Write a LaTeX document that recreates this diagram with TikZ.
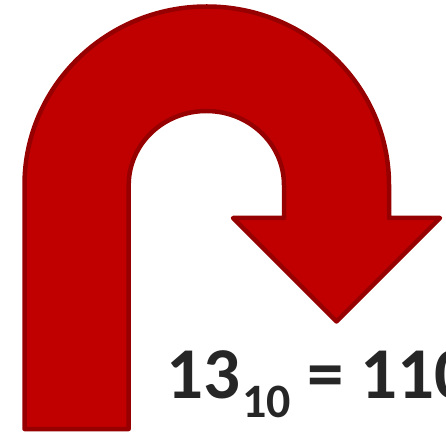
\documentclass[tikz,border=0pt]{standalone}
\usepackage{fontspec}
\setmainfont{Carlito}
\usepackage{tikz}
\usetikzlibrary{positioning}

\definecolor{uturnfill}{RGB}{192,0,0}
\definecolor{uturnline}{RGB}{150,0,0}
\definecolor{eqntext}{RGB}{38,38,38}

\begin{document}
\begin{tikzpicture}[x=1pt,y=1pt,
    uturn/.style={fill=uturnfill,draw=uturnline,line width=4.5pt,line join=round},
    eqnlabel/.style={inner sep=0pt,text=eqntext,font=\bfseries\fontsize{73}{73}\selectfont}]
  \useasboundingbox (0,0) rectangle (446,433);
  \clip (0,0) rectangle (446,433);
  % U-turn arrow
  \draw[uturn] (24.5,4) -- (24.5,248)
    arc[start angle=180,end angle=0,x radius=182.25,y radius=178.5]
    -- (389,215) -- (440,215) -- (336.5,111.5) -- (233,215) -- (284,215) -- (284,248)
    arc[start angle=0,end angle=180,x radius=77.65,y radius=74]
    -- (128.7,4) -- cycle;
  % equation
  \node[eqnlabel,anchor=base west] (eqn) at (166,35)
    {13\kern2pt\raisebox{-19pt}{\fontsize{48}{48}\selectfont 10} = 110};
\end{tikzpicture}
\end{document}
